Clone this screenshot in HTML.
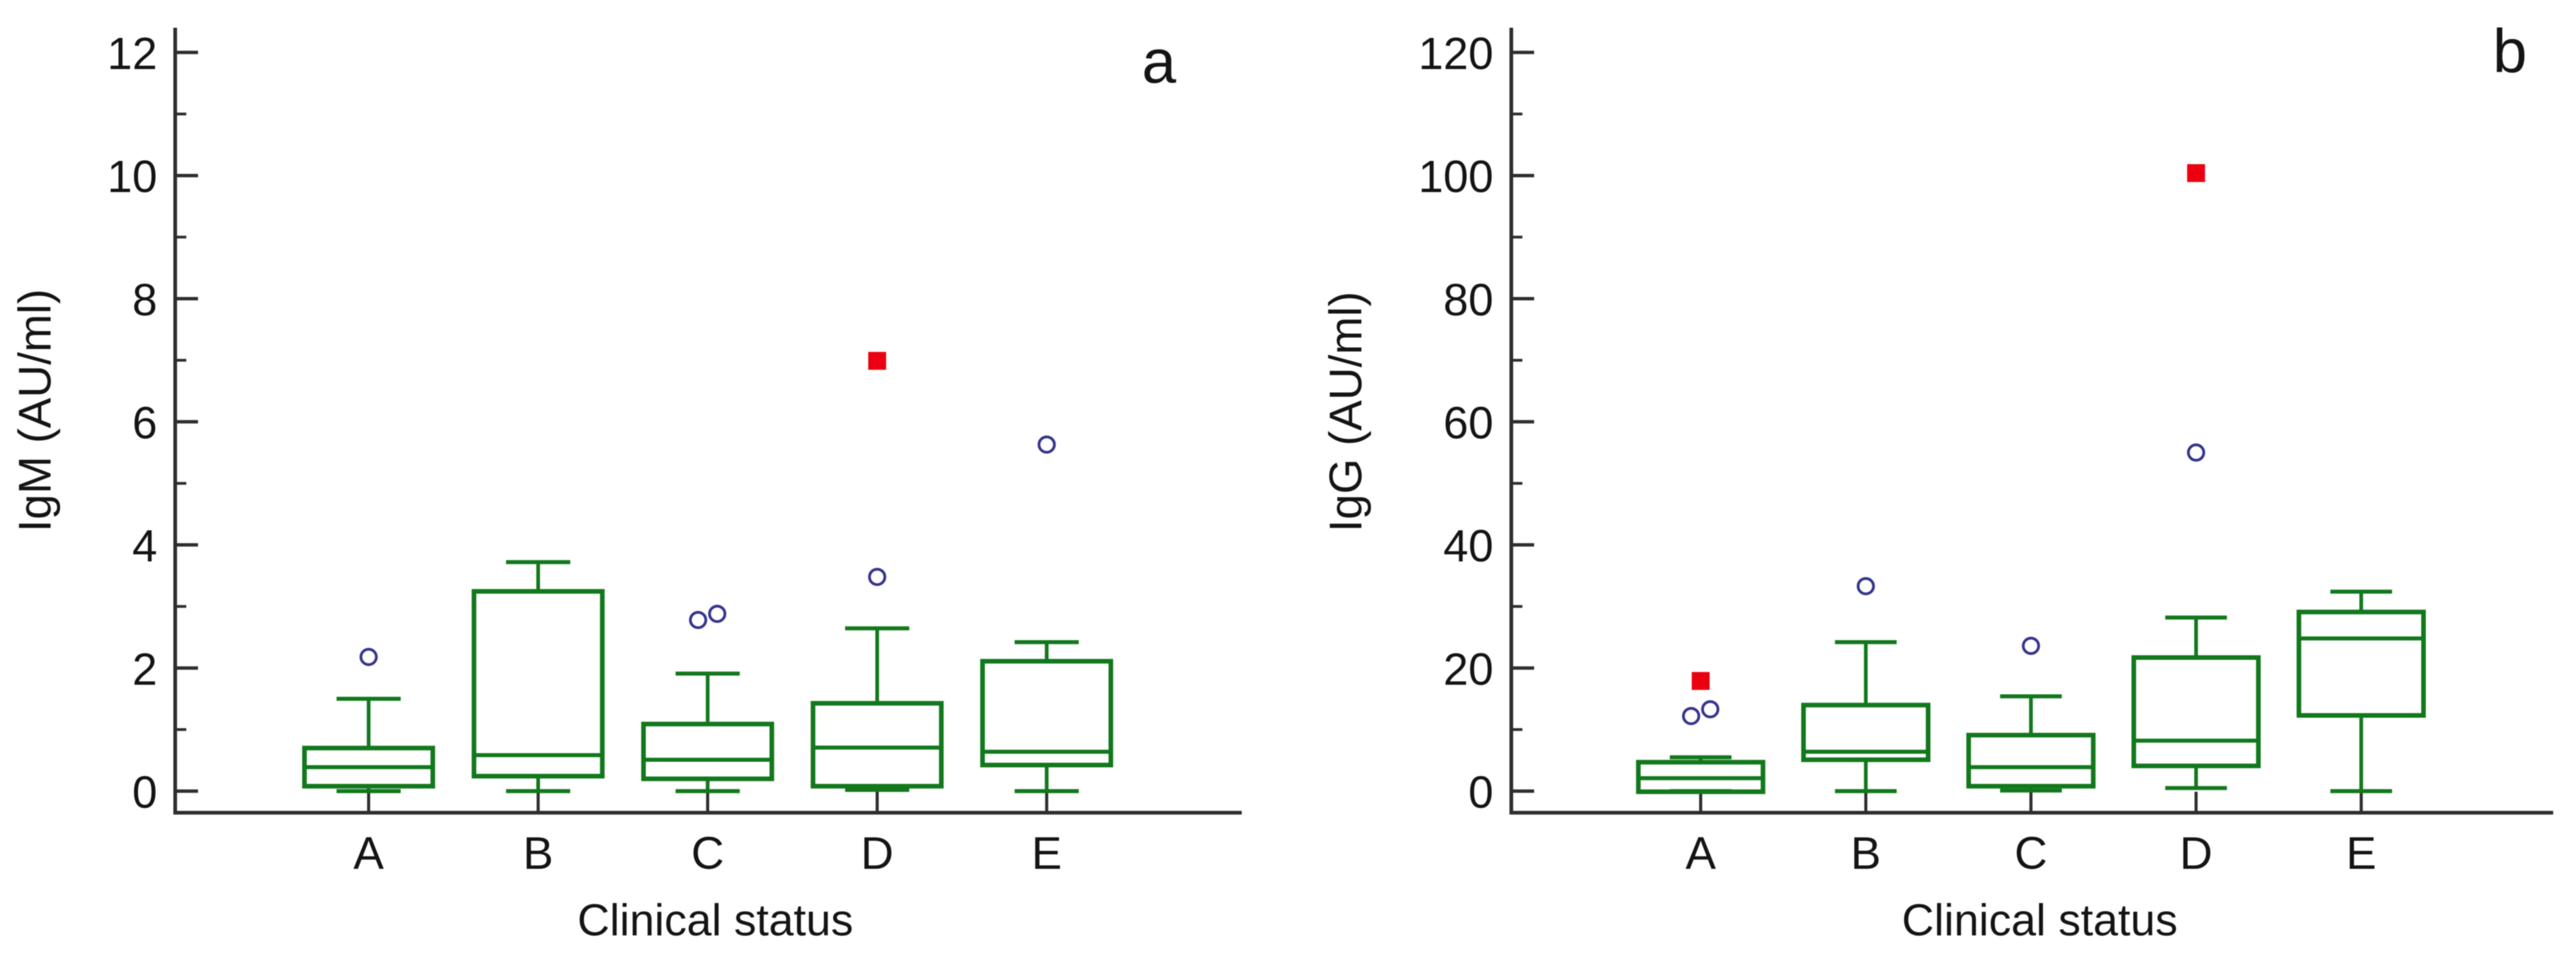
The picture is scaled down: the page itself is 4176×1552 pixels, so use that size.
<!DOCTYPE html>
<html lang="en">
<head>
<meta charset="utf-8">
<title>IgM and IgG by clinical status</title>
<style>
  html, body { margin: 0; padding: 0; background: #fff; }
  svg { display: block; filter: blur(0.9px); }
  text { font-family: "Liberation Sans", sans-serif; fill: #141414; }
</style>
</head>
<body>
<svg id="chart" xmlns="http://www.w3.org/2000/svg" width="4176" height="1552" viewBox="0 0 4176 1552"></svg>
<script>
const categories = ['A', 'B', 'C', 'D', 'E'];

const igmTickLabels = [0, 2, 4, 6, 8, 10, 12];
const igmMinorTicks = [1, 3, 5, 7, 9, 11];
const igmWhiskerHigh = [1.50, 3.72, 1.91, 2.645, 2.42];
const igmBoxTop = [0.70, 3.245, 1.09, 1.427, 2.11];
const igmMedian = [0.39, 0.585, 0.51, 0.707, 0.64];
const igmBoxBottom = [0.08, 0.243, 0.20, 0.08, 0.424];
const igmWhiskerLow = [0, 0, 0, 0.02, 0];
const igmOutliers = [[2.18], [], [2.78, 2.88], [3.48], [5.63]];
const igmFarOutliers = [[], [], [], [6.99], []];

const iggTickLabels = [0, 20, 40, 60, 80, 100, 120];
const iggMinorTicks = [10, 30, 50, 70, 90, 110];
const iggWhiskerHigh = [5.5, 24.2, 15.4, 28.2, 32.4];
const iggBoxTop = [4.7, 13.98, 9.1, 21.7, 29.1];
const iggMedian = [2.1, 6.4, 3.9, 8.2, 24.8];
const iggBoxBottom = [-0.1, 5.1, 0.8, 4.1, 12.3];
const iggWhiskerLow = [0, 0, 0.1, 0.5, 0];
const iggOutliers = [[12.2, 13.3], [33.3], [23.6], [55.0], []];
const iggFarOutliers = [[17.9], [], [], [100.4], []];

const SVG_NS = 'http://www.w3.org/2000/svg';
const svg = document.getElementById('chart');
const GREEN = '#12781c';
const AXIS = '#2e2e2e';
const NAVY = '#35358c';
const RED = '#ea0010';

function make(tag, attrs, parent, name) {
  const el = document.createElementNS(SVG_NS, tag);
  for (const k in attrs) el.setAttribute(k, attrs[k]);
  
  
  parent.appendChild(el);
  return el;
}

function line(parent, x1, y1, x2, y2, color, w, name) {
  return make('line', { x1, y1, x2, y2, stroke: color, 'stroke-width': w }, parent, name);
}

function label(parent, x, y, str, size, anchor, name, transform) {
  const t = make('text', { x, y, 'font-size': size, 'text-anchor': anchor }, parent, name);
  if (transform) t.setAttribute('transform', transform);
  t.textContent = str;
  return t;
}

function drawPanel(p) {
  const g = make('g', {}, svg, p.id + '-panel');
  const xScale = i => p.x0 + p.step * i;
  const yScale = v => p.yZero - v * p.pxPerUnit;

  // axes
  line(g, p.axisX, p.axisTop, p.axisX, p.axisY + 3, AXIS, 6, p.id + '-y-axis');
  line(g, p.axisX - 3, p.axisY, p.axisEnd, p.axisY, AXIS, 6, p.id + '-x-axis');

  // y ticks
  p.ticks.forEach(v => {
    line(g, p.axisX, yScale(v), p.axisX + 37, yScale(v), AXIS, 5.5, p.id + '-y-tick-' + v);
    label(g, p.labelRight, yScale(v) + 27, String(v), 73, 'end', p.id + '-y-tick-label-' + v);
  });
  p.minor.forEach(v => {
    line(g, p.axisX, yScale(v), p.axisX + 18, yScale(v), AXIS, 4.5, p.id + '-y-minor-tick-' + v);
  });

  // categories
  categories.forEach((c, i) => {
    const cx = xScale(i);
    line(g, cx, p.axisY, cx, p.axisY - 34, AXIS, 5, p.id + '-x-tick-' + c);
    label(g, cx, 1409, c, 74, 'middle', p.id + '-x-tick-label-' + c);

    const box = make('g', {}, g, p.id + '-box-group-' + c);
    line(box, cx, yScale(p.whiskerHigh[i]), cx, yScale(p.boxTop[i]), GREEN, 6, p.id + '-upper-whisker-' + c);
    line(box, cx, yScale(p.boxBottom[i]), cx, yScale(p.whiskerLow[i]), GREEN, 6, p.id + '-lower-whisker-' + c);
    line(box, cx - p.capHalf, yScale(p.whiskerHigh[i]), cx + p.capHalf, yScale(p.whiskerHigh[i]), GREEN, 6.5, p.id + '-upper-cap-' + c);
    line(box, cx - p.capHalf, yScale(p.whiskerLow[i]), cx + p.capHalf, yScale(p.whiskerLow[i]), GREEN, 6.5, p.id + '-lower-cap-' + c);
    make('rect', {
      x: cx - p.boxHalf,
      y: yScale(p.boxTop[i]),
      width: p.boxHalf * 2,
      height: yScale(p.boxBottom[i]) - yScale(p.boxTop[i]),
      fill: 'none',
      stroke: GREEN,
      'stroke-width': 7.5
    }, box, p.id + '-box-' + c);
    line(box, cx - p.boxHalf, yScale(p.median[i]), cx + p.boxHalf, yScale(p.median[i]), GREEN, 6.5, p.id + '-median-' + c);

    const n = p.outliers[i].length;
    p.outliers[i].forEach((v, k) => {
      const ox = cx + (n > 1 ? (k === 0 ? -15.5 : 15.5) : 0);
      make('circle', { cx: ox, cy: yScale(v), r: 12.5, fill: 'none', stroke: NAVY, 'stroke-width': 4.5 }, box, p.id + '-outlier-' + c + '-' + k);
    });
    p.farOutliers[i].forEach((v, k) => {
      make('rect', { x: cx - 14.5, y: yScale(v) - 14.5, width: 29, height: 29, fill: RED }, box, p.id + '-far-outlier-' + c + '-' + k);
    });
  });

  // titles
  label(g, p.titleX, 1517, 'Clinical status', 72.5, 'start', p.id + '-x-axis-title');
  label(g, 0, 0, p.yTitle, 74, 'start', p.id + '-y-axis-title', 'translate(' + p.yTitleX + ' 863) rotate(-90)');
  label(g, p.letterX, p.letterY, p.id, 100, 'start', p.id + '-panel-letter');
}

drawPanel({
  id: 'a', yTitle: 'IgM (AU/ml)', yTitleX: 82,
  titleX: 936, letterX: 1851, letterY: 134,
  axisX: 284, axisEnd: 2013, axisY: 1318, axisTop: 45,
  labelRight: 255, x0: 597.6, step: 274.8, boxHalf: 104, capHalf: 52,
  yZero: 1283, pxPerUnit: 99.83,
  ticks: igmTickLabels, minor: igmMinorTicks,
  whiskerHigh: igmWhiskerHigh, boxTop: igmBoxTop, median: igmMedian,
  boxBottom: igmBoxBottom, whiskerLow: igmWhiskerLow,
  outliers: igmOutliers, farOutliers: igmFarOutliers
});

drawPanel({
  id: 'b', yTitle: 'IgG (AU/ml)', yTitleX: 2207,
  titleX: 3083, letterX: 4041, letterY: 117,
  axisX: 2450, axisEnd: 4139, axisY: 1318, axisTop: 45,
  labelRight: 2421, x0: 2757, step: 267.7, boxHalf: 101, capHalf: 50,
  yZero: 1283, pxPerUnit: 9.983,
  ticks: iggTickLabels, minor: iggMinorTicks,
  whiskerHigh: iggWhiskerHigh, boxTop: iggBoxTop, median: iggMedian,
  boxBottom: iggBoxBottom, whiskerLow: iggWhiskerLow,
  outliers: iggOutliers, farOutliers: iggFarOutliers
});
</script>
</body>
</html>
